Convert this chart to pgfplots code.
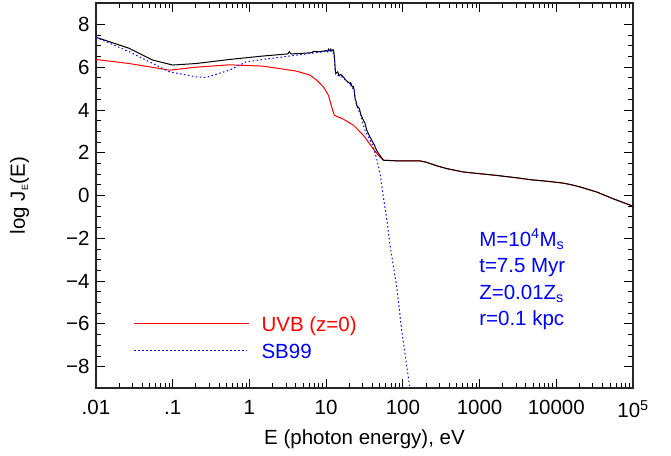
\documentclass[border=0pt]{standalone}
\usepackage{pgfplots}
\pgfplotsset{compat=1.18}
\usepackage{fontspec}
\setmainfont{Liberation Sans}
\definecolor{myred}{RGB}{255,0,0}
\definecolor{myblue}{RGB}{0,0,255}
\begin{document}
\begin{tikzpicture}[font=\fontsize{20.5}{24}\selectfont]
\begin{axis}[
  at={(96pt,67pt)}, anchor=south west,
  scale only axis, width=537pt, height=385pt,
  xmode=log, xmin=0.01, xmax=100000, ymin=-9, ymax=9,
  xtick={0.01,0.1,1,10,100,1000,10000,100000},
  xticklabels={.01,.1,1,10,100,1000,10000,10\textsuperscript{5}},
  ytick={-8,-6,-4,-2,0,2,4,6,8},
  yticklabels={−8,−6,−4,−2,0,2,4,6,8},
  minor y tick num=3,
  tick align=inside,
  major tick length=9pt, minor tick length=5pt,
  every tick/.style={black, line width=0.8pt},
  axis line style={black!85, line width=1.2pt},
  xticklabel style={yshift=-9pt},
  yticklabel style={xshift=-3pt},
  xlabel={E (photon energy), eV},
  ylabel={log J\textsubscript{\fontsize{9}{10}\selectfont E}(E)},
  xlabel style={yshift=-5pt},
  ylabel style={yshift=30pt},
]
% UVB (z=0)
\addplot[myred, line width=1pt] coordinates {
(0.01,6.36) (0.02716,6.17) (0.0912,5.86) (0.2014,6.0) (0.547,6.11) (1.489,6.05)
(4.055,5.82) (6.166,5.63) (7.551,5.39) (9.204,5.08) (10.69,4.69) (11.83,4.14)
(12.79,3.75) (16.75,3.57) (22.65,3.29) (30.55,2.82) (39.36,2.27) (47.86,1.88)
(55.72,1.65) (83.18,1.62) (100,1.62) (166.0,1.62) (199.5,1.56) (223.9,1.5)
(281.8,1.38) (371.5,1.26) (446.7,1.2) (616.6,1.10) (1000,1.02) (1660,0.94)
(3162,0.82) (4571,0.74) (7943,0.66) (12300,0.58) (15850,0.5) (20420,0.40)
(33880,0.16) (54950,-0.15) (100000,-0.50)
};
% total
\addplot[black, line width=1pt] coordinates {
(0.01,7.40) (0.02716,6.88) (0.05495,6.33) (0.1,6.1) (0.2014,6.17) (0.547,6.36)
(1.489,6.52) (3.162,6.62) (3.311,6.72) (3.467,6.62) (4.571,6.64) (6.6,6.68)
(6.8,6.74) (8.318,6.72) (10,6.78)
(10.47,6.72) (10.72,6.84) (11.22,6.76) (11.5,6.84) (11.75,6.76) (12.3,6.82)
(12.59,6.72) (12.88,6.4) (13.06,6.0) (13.3,5.7) (14.13,5.78) (14.79,5.6)
(15.49,5.66) (16.75,5.55) (17.78,5.42) (18.62,5.35) (20.42,5.24) (20.89,5.28)
(21.88,5.08) (22.65,5.1) (23.3,4.9) (23.8,4.55) (24.55,4.4) (25.12,4.2) (26.3,4.12)
(27.2,4.05) (28.18,3.8) (29.51,3.65) (30.55,3.52) (32.0,3.4) (33.9,3.05)
(35.48,2.9) (37.15,2.75) (39.36,2.58) (42.66,2.35) (45.71,2.1) (50.12,1.88)
(55.72,1.65) (83.18,1.62) (100,1.62) (166.0,1.62) (199.5,1.56) (223.9,1.5)
(281.8,1.38) (371.5,1.26) (446.7,1.2) (616.6,1.10) (1000,1.02) (1660,0.94)
(3162,0.82) (4571,0.74) (7943,0.66) (12300,0.58) (15850,0.5) (20420,0.40)
(33880,0.16) (54950,-0.15) (100000,-0.50)
};
% SB99
\addplot[myblue, line width=1pt, dash pattern=on 1.5pt off 2.5pt] coordinates {
(0.01,7.40) (0.02716,6.72) (0.05495,6.17) (0.0912,5.78) (0.2014,5.55)
(0.2716,5.52) (0.547,5.86) (0.9036,6.25) (1.489,6.36) (4.055,6.56) (10,6.74)
(10.47,6.72) (10.72,6.8) (11.22,6.74) (11.75,6.78) (12.3,6.72)
(12.88,6.4) (13.06,5.98) (13.3,5.68) (14.79,5.58) (16.75,5.52) (17.78,5.4)
(20.42,5.22) (21.88,5.06) (23.3,4.88) (23.8,4.53) (25.12,4.18) (28.18,3.78)
(30.55,3.3) (32.14,3.04) (35.48,2.75) (41.3,2.26) (45.71,1.7) (50.47,1.02)
(55.72,-0.07) (62.81,-1.3) (67.61,-2.25) (83.18,-4.28) (96.6,-6.3)
(123.0,-8.97) (128.8,-9.5)
};
% legend samples
\addplot[draw=myred, line width=1.4pt] coordinates {(0.0313,-5.98) (0.2,-5.98) (1.0,-5.98)};
\addplot[draw=myblue, line width=1.2pt, dash pattern=on 1.5pt off 2.5pt] coordinates {(0.0313,-7.23) (0.2,-7.23) (0.93,-7.23)};
\node[anchor=base west, text=myred, inner sep=0pt] at (axis cs:1.43,-6.36) {UVB (z=0)};
\node[anchor=base west, text=myblue, inner sep=0pt] at (axis cs:1.43,-7.61) {SB99};
\node[anchor=base west, text=myblue, inner sep=0pt] at (axis cs:986,-2.38) {M=10\textsuperscript{4}M\textsubscript{s}};
\node[anchor=base west, text=myblue, inner sep=0pt] at (axis cs:986,-3.58) {t=7.5 Myr};
\node[anchor=base west, text=myblue, inner sep=0pt] at (axis cs:986,-4.86) {Z=0.01Z\textsubscript{s}};
\node[anchor=base west, text=myblue, inner sep=0pt] at (axis cs:986,-6.08) {r=0.1 kpc};
\end{axis}
\pgfresetboundingbox
\path (0pt,0pt) rectangle (671pt,455pt);
\end{tikzpicture}
\end{document}
